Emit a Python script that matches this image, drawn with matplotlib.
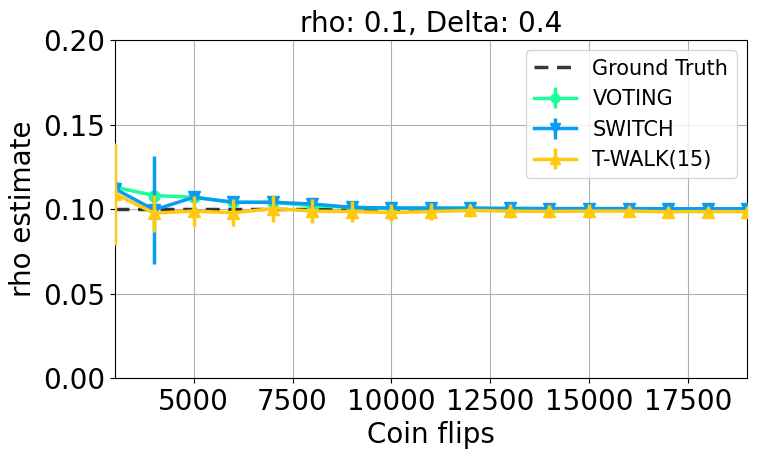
import matplotlib
matplotlib.use("Agg")
import matplotlib.pyplot as plt
import numpy as np

flips = [3000, 4000, 5000, 6000, 7000, 8000, 9000, 10000, 11000, 12000,
         13000, 14000, 15000, 16000, 17000, 18000, 19000]
truth = 0.1

voting = [0.113, 0.108, 0.107, 0.104, 0.104, 0.102, 0.101, 0.1005, 0.1005, 0.1005,
          0.1003, 0.1002, 0.1002, 0.1001, 0.1001, 0.1001, 0.1000]
voting_err = [0.003, 0.003, 0.002, 0.002, 0.002, 0.002, 0.001, 0.001, 0.001, 0.001,
              0.001, 0.001, 0.001, 0.001, 0.001, 0.001, 0.001]

switch = [0.112, 0.0995, 0.107, 0.104, 0.104, 0.103, 0.101, 0.1006, 0.1006, 0.1005,
          0.1004, 0.1003, 0.1003, 0.1003, 0.1002, 0.1002, 0.1002]
switch_err = [0.004, 0.032, 0.002, 0.002, 0.002, 0.002, 0.002, 0.001, 0.001, 0.001,
              0.001, 0.001, 0.001, 0.001, 0.001, 0.001, 0.001]

twalk = [0.109, 0.0976, 0.0988, 0.0978, 0.1003, 0.0988, 0.0985, 0.098, 0.0985, 0.0992,
         0.0988, 0.0986, 0.0988, 0.0988, 0.0984, 0.0985, 0.0985]
twalk_err = [0.03, 0.011, 0.009, 0.008, 0.008, 0.007, 0.006, 0.005, 0.005, 0.004,
             0.004, 0.004, 0.004, 0.003, 0.003, 0.003, 0.003]

fig = plt.figure(figsize=(7.6, 4.59), dpi=100)
ax = fig.add_axes([0.151, 0.176, 0.832, 0.737])

ax.plot(flips, [truth] * len(flips), "--", color="#222222", alpha=0.9, lw=2.5,
        dashes=(4, 2.5), label="Ground Truth", zorder=1.5)
ax.errorbar(flips, voting, yerr=voting_err, color="#1aff9c", marker="o", ms=8,
            lw=2.5, elinewidth=2.5, label="VOTING", zorder=2)
ax.errorbar(flips, switch, yerr=switch_err, color="#0a9cf5", marker="v", ms=9,
            lw=2.5, elinewidth=2.5, label="SWITCH", zorder=3)
ax.errorbar(flips, twalk, yerr=twalk_err, color="#ffc90e", marker="^", ms=9,
            lw=2.5, elinewidth=2.5, label="T-WALK(15)", zorder=4)

ax.set_xlim(3000, 19000)
ax.set_ylim(0, 0.2)
ax.set_xticks([5000, 7500, 10000, 12500, 15000, 17500])
ax.set_yticks([0, 0.05, 0.1, 0.15, 0.2])
ax.set_yticklabels(["0.00", "0.05", "0.10", "0.15", "0.20"])
ax.tick_params(labelsize=20)
ax.grid(True, color="#b0b0b0")
ax.set_axisbelow(True)
ax.set_xlabel("Coin flips", fontsize=20)
ax.set_ylabel("rho estimate", fontsize=20)
ax.set_title("rho: 0.1, Delta: 0.4", fontsize=20)
ax.legend(fontsize=15, loc="upper right", markerscale=0.8)

fig.savefig("out.png", dpi=100)
